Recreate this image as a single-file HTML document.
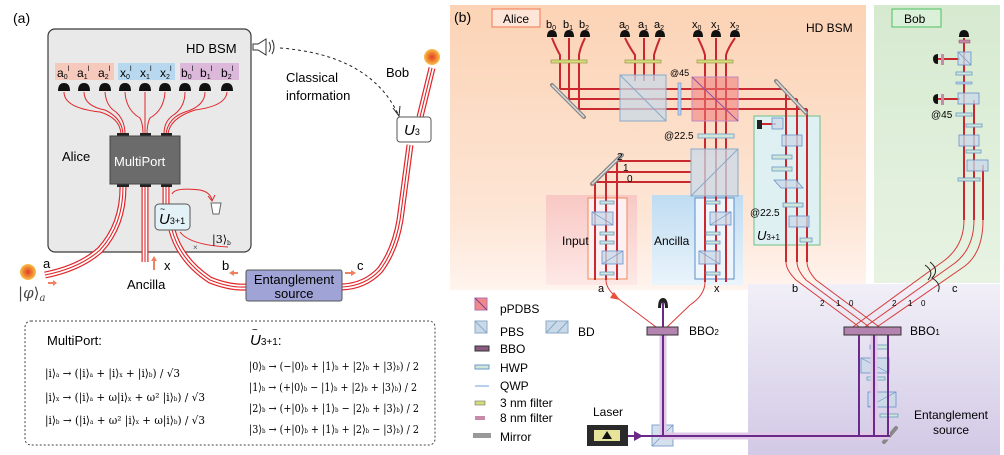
<!DOCTYPE html>
<html><head><meta charset="utf-8">
<style>
html,body{margin:0;padding:0;background:#fff;}
svg{display:block;font-family:"Liberation Sans",sans-serif;}
.f{font-family:"DejaVu Serif","Liberation Serif",serif;}
</style></head>
<body>
<svg width="1004" height="455" viewBox="0 0 1004 455" xmlns="http://www.w3.org/2000/svg">
<defs>
<linearGradient id="peach" x1="0" y1="0" x2="0" y2="1">
<stop offset="0" stop-color="#fcd3b5"/><stop offset="0.75" stop-color="#fde6d6"/><stop offset="1" stop-color="#fff4ee"/></linearGradient>
<linearGradient id="green" x1="0" y1="0" x2="0" y2="1">
<stop offset="0" stop-color="#d6ead0"/><stop offset="1" stop-color="#e8f3e3"/></linearGradient>
<linearGradient id="purp" x1="0" y1="0" x2="0" y2="1">
<stop offset="0" stop-color="#f1eff7"/><stop offset="1" stop-color="#d2c9e6"/></linearGradient>
<linearGradient id="pink" x1="0" y1="0" x2="0" y2="1">
<stop offset="0" stop-color="#f8c8c4"/><stop offset="1" stop-color="#fde8e6"/></linearGradient>
<linearGradient id="blue" x1="0" y1="0" x2="0" y2="1">
<stop offset="0" stop-color="#bfdcf2"/><stop offset="1" stop-color="#eaf4fb"/></linearGradient>
<radialGradient id="orb" cx="0.5" cy="0.5" r="0.5">
<stop offset="0" stop-color="#e53a2a"/><stop offset="0.6" stop-color="#f08a30"/><stop offset="1" stop-color="#f7c050"/></radialGradient>
</defs>

<!-- ========== PANEL A ========== -->
<text x="13" y="23" font-size="14">(a)</text>
<rect x="48" y="29" width="203" height="223" rx="7" fill="#e9e9e9" stroke="#3a3a3a" stroke-width="1.2"/>
<text x="186" y="53" font-size="13">HD BSM</text>
<g stroke="#333" fill="none" stroke-width="1">
<path d="M253 44 L253 50 L258 50 L266 55 L266 39 L258 44 Z" fill="#fff"/>
<path d="M269 42 Q272 47 269 52"/><path d="M272 40 Q276 47 272 54"/>
</g>
<path d="M280 48 Q370 55 398 114" fill="none" stroke="#222" stroke-dasharray="3,3"/>
<path d="M393 108 L399 116 L400 106" fill="none" stroke="#222"/>
<rect x="55" y="63" width="59" height="17" fill="#f6c9bd"/>
<rect x="118" y="63" width="57" height="17" fill="#b7d8ee"/>
<rect x="180" y="63" width="59" height="17" fill="#dcb8da"/>
<g font-size="12">
<text x="57" y="77">a<tspan font-size="7" dy="2">0</tspan><tspan font-size="7" dy="-8">ǀ</tspan></text>
<text x="77" y="77">a<tspan font-size="7" dy="2">1</tspan><tspan font-size="7" dy="-8">ǀ</tspan></text>
<text x="98" y="77">a<tspan font-size="7" dy="2">2</tspan><tspan font-size="7" dy="-8">ǀ</tspan></text>
<text x="120" y="77">x<tspan font-size="7" dy="2">0</tspan><tspan font-size="7" dy="-8">ǀ</tspan></text>
<text x="140" y="77">x<tspan font-size="7" dy="2">1</tspan><tspan font-size="7" dy="-8">ǀ</tspan></text>
<text x="160" y="77">x<tspan font-size="7" dy="2">2</tspan><tspan font-size="7" dy="-8">ǀ</tspan></text>
<text x="181" y="77">b<tspan font-size="7" dy="2">0</tspan><tspan font-size="7" dy="-8">ǀ</tspan></text>
<text x="200" y="77">b<tspan font-size="7" dy="2">1</tspan><tspan font-size="7" dy="-8">ǀ</tspan></text>
<text x="221" y="77">b<tspan font-size="7" dy="2">2</tspan><tspan font-size="7" dy="-8">ǀ</tspan></text>
</g>
<g fill="#111">
<path d="M58 91 Q58 83 64 83 Q70 83 70 91 Z"/><path d="M78 91 Q78 83 84 83 Q90 83 90 91 Z"/>
<path d="M99 91 Q99 83 105 83 Q111 83 111 91 Z"/><path d="M119 91 Q119 83 125 83 Q131 83 131 91 Z"/>
<path d="M139 91 Q139 83 145 83 Q151 83 151 91 Z"/><path d="M159 91 Q159 83 165 83 Q171 83 171 91 Z"/>
<path d="M179 91 Q179 83 185 83 Q191 83 191 91 Z"/><path d="M199 91 Q199 83 205 83 Q211 83 211 91 Z"/>
<path d="M221 91 Q221 83 227 83 Q233 83 233 91 Z"/>
</g>
<g fill="none" stroke="#e0262a" stroke-width="1">
<path d="M64 92 Q64 108 100 112 Q120 118 121 134"/>
<path d="M84 92 Q84 106 105 110 Q122 118 123 134"/>
<path d="M105 92 Q106 106 116 112 Q125 120 125 134"/>
<path d="M125 92 Q126 110 140 118 Q143 124 143 134"/>
<path d="M145 92 L145 134"/>
<path d="M165 92 Q164 110 150 118 Q147 124 147 134"/>
<path d="M185 92 Q185 108 172 116 Q164 122 164 134"/>
<path d="M205 92 Q205 106 185 112 Q168 118 166 134"/>
<path d="M227 92 Q226 106 195 110 Q170 118 168 134"/>
</g>
<rect x="117" y="133" width="12" height="4" fill="#222"/>
<rect x="140" y="133" width="11" height="4" fill="#222"/>
<rect x="161" y="133" width="11" height="4" fill="#222"/>
<rect x="117" y="183" width="12" height="4" fill="#222"/>
<rect x="140" y="183" width="11" height="4" fill="#222"/>
<rect x="161" y="183" width="11" height="4" fill="#222"/>
<rect x="110" y="136" width="70" height="48" fill="#6b6b6b" stroke="#444"/>
<text x="114" y="166" font-size="13" fill="#fff">MultiPort</text>
<text x="62" y="161" font-size="13">Alice</text>
<g fill="none">
<path id="pa" d="M45 275 Q80 268 100 250 Q123 225 123 187"/>
<path id="px" d="M145 187 L145 262"/>
<path id="pb" d="M166 187 L166 204"/>
<path id="pu" d="M172 230 Q180 260 210 280 Q230 288 246 287"/>
<path id="pc" d="M342 287 Q365 286 380 270 Q395 250 400 220 L410 145 M420 117 L432 68"/>
</g>
<g fill="none" stroke="#e0262a" stroke-width="7"><use href="#pa"/><use href="#px"/><use href="#pb"/><use href="#pu"/><use href="#pc"/></g>
<g fill="none" stroke="#fff" stroke-width="4.6"><use href="#pa"/><use href="#px"/><use href="#pb"/><use href="#pu"/><use href="#pc"/></g>
<g fill="none" stroke="#e0262a" stroke-width="1.1"><use href="#pa"/><use href="#px"/><use href="#pb"/><use href="#pu"/><use href="#pc"/></g>
<path d="M172 194 Q175 187 200 190 Q210 192 212 200" fill="none" stroke="#e0262a"/>
<path d="M208 196 L212 201 L215 195" fill="none" stroke="#e0262a"/>
<path d="M211 203 L221 203 L219 214 L213 214 Z" fill="#fff" stroke="#666"/>
<path d="M180 232 Q190 245 228 247" fill="none" stroke="#e0262a"/>
<text x="193" y="250" font-size="8" fill="#555">×</text>
<text x="212" y="243" font-size="11" class="f">|3⟩<tspan font-size="6" dy="2">b</tspan></text>
<rect x="155" y="204" width="35" height="26" rx="4" fill="#e3f2f7" stroke="#555"/>
<text x="159" y="224" font-size="15" font-style="italic">U<tspan font-size="9" font-style="normal">3+1</tspan></text>
<text x="160" y="212" font-size="9">~</text>
<circle cx="28" cy="272" r="8" fill="url(#orb)"/>
<text x="43" y="268" font-size="13">a</text>
<path d="M48 283 L54 283" stroke="#f08060" stroke-width="2"/><path d="M53 280 L57 283 L53 286 Z" fill="#f08060"/>
<text x="18" y="298" font-size="15" fill="#444" class="f">|<tspan font-style="italic">φ</tspan>⟩<tspan font-size="10" font-style="italic" dy="3">a</tspan></text>
<path d="M154 270 L154 260" stroke="#f08060" stroke-width="2"/><path d="M151 261 L154 256 L157 261 Z" fill="#f08060"/>
<text x="164" y="270" font-size="13">x</text>
<text x="127" y="289" font-size="13">Ancilla</text>
<text x="222" y="270" font-size="13">b</text>
<path d="M238 273 L232 273" stroke="#f08060" stroke-width="2"/><path d="M234 270 L229 273 L234 276 Z" fill="#f08060"/>
<path d="M345 273 L352 273" stroke="#f08060" stroke-width="2"/><path d="M351 270 L356 273 L351 276 Z" fill="#f08060"/>
<text x="357" y="270" font-size="13">c</text>
<rect x="246" y="270" width="96" height="31" rx="2" fill="#a0a3d6" stroke="#555"/>
<text x="294" y="284" font-size="13" text-anchor="middle">Entanglement</text>
<text x="294" y="298" font-size="13" text-anchor="middle">source</text>
<text x="386" y="77" font-size="13">Bob</text>
<circle cx="432" cy="57" r="8" fill="url(#orb)"/>
<rect x="397" y="117" width="34" height="25" rx="3" fill="#fff" stroke="#555"/>
<text x="404" y="135" font-size="15" font-style="italic">U<tspan font-size="9" font-style="normal">3</tspan></text>
<text x="286" y="82" font-size="13">Classical</text>
<text x="286" y="100" font-size="13">information</text>

<rect x="25" y="321" width="410" height="124" rx="6" fill="none" stroke="#444" stroke-dasharray="2,2"/>
<text x="47" y="345" font-size="13">MultiPort:</text>
<g font-size="11" class="f" lengthAdjust="spacingAndGlyphs">
<text x="45" y="377" textLength="135" lengthAdjust="spacingAndGlyphs">|i⟩<tspan font-size="6">a</tspan> → (|i⟩<tspan font-size="6">a</tspan> + |i⟩<tspan font-size="6">x</tspan> + |i⟩<tspan font-size="6">b</tspan>) / √3</text>
<text x="45" y="401" textLength="160" lengthAdjust="spacingAndGlyphs">|i⟩<tspan font-size="6">x</tspan> → (|i⟩<tspan font-size="6">a</tspan> + ω|i⟩<tspan font-size="6">x</tspan> + ω² |i⟩<tspan font-size="6">b</tspan>) / √3</text>
<text x="45" y="424" textLength="160" lengthAdjust="spacingAndGlyphs">|i⟩<tspan font-size="6">b</tspan> → (|i⟩<tspan font-size="6">a</tspan> + ω² |i⟩<tspan font-size="6">x</tspan> + ω|i⟩<tspan font-size="6">b</tspan>) / √3</text>
</g>
<g font-size="11" class="f">
<text x="249" y="370" textLength="170" lengthAdjust="spacingAndGlyphs">|0⟩<tspan font-size="6">b</tspan> → (−|0⟩<tspan font-size="6">b</tspan> + |1⟩<tspan font-size="6">b</tspan> + |2⟩<tspan font-size="6">b</tspan> + |3⟩<tspan font-size="6">b</tspan>) / 2</text>
<text x="249" y="391" textLength="168" lengthAdjust="spacingAndGlyphs">|1⟩<tspan font-size="6">b</tspan> → (+|0⟩<tspan font-size="6">b</tspan> − |1⟩<tspan font-size="6">b</tspan> + |2⟩<tspan font-size="6">b</tspan> + |3⟩<tspan font-size="6">b</tspan>) / 2</text>
<text x="249" y="412" textLength="170" lengthAdjust="spacingAndGlyphs">|2⟩<tspan font-size="6">b</tspan> → (+|0⟩<tspan font-size="6">b</tspan> + |1⟩<tspan font-size="6">b</tspan> − |2⟩<tspan font-size="6">b</tspan> + |3⟩<tspan font-size="6">b</tspan>) / 2</text>
<text x="249" y="433" textLength="170" lengthAdjust="spacingAndGlyphs">|3⟩<tspan font-size="6">b</tspan> → (+|0⟩<tspan font-size="6">b</tspan> + |1⟩<tspan font-size="6">b</tspan> + |2⟩<tspan font-size="6">b</tspan> − |3⟩<tspan font-size="6">b</tspan>) / 2</text>
</g>
<text x="250" y="345" font-size="15" font-style="italic">U<tspan font-size="10" font-style="normal">3+1</tspan><tspan font-style="normal" font-size="13">:</tspan></text>
<text x="252" y="333" font-size="10">~</text>

<!-- ========== PANEL B ========== -->
<rect x="450" y="5" width="416" height="285" fill="url(#peach)"/>
<rect x="874" y="5" width="126" height="278" fill="url(#green)"/>
<rect x="748" y="284" width="252" height="171" fill="url(#purp)"/>
<rect x="546" y="195" width="91" height="90" fill="url(#pink)"/>
<rect x="652" y="195" width="91" height="90" fill="url(#blue)"/>
<rect x="588" y="198" width="39" height="81" fill="#fdf0f3" stroke="#f08a5a"/>
<rect x="695" y="198" width="39" height="81" fill="#eef5fb" stroke="#5a8ec8"/>
<rect x="754" y="116" width="66" height="129" fill="#dff0f3" stroke="#6cc08a"/>

<text x="454" y="22" font-size="14">(b)</text>
<rect x="492" y="9" width="48" height="18" fill="#fde5d8" stroke="#f07850"/>
<text x="503" y="23" font-size="12">Alice</text>
<rect x="892" y="9" width="49" height="18" fill="#dbf0d8" stroke="#4cbf60"/>
<text x="904" y="23" font-size="12">Bob</text>
<text x="806" y="32" font-size="12">HD BSM</text>

<g font-size="11">
<text x="546" y="28">b<tspan font-size="7" dy="2">0</tspan></text><text x="563" y="28">b<tspan font-size="7" dy="2">1</tspan></text><text x="579" y="28">b<tspan font-size="7" dy="2">2</tspan></text>
<text x="619" y="28">a<tspan font-size="7" dy="2">0</tspan></text><text x="638" y="28">a<tspan font-size="7" dy="2">1</tspan></text><text x="654" y="28">a<tspan font-size="7" dy="2">2</tspan></text>
<text x="692" y="28">x<tspan font-size="7" dy="2">0</tspan></text><text x="711" y="28">x<tspan font-size="7" dy="2">1</tspan></text><text x="730" y="28">x<tspan font-size="7" dy="2">2</tspan></text>
</g>
<g fill="#111">
<path d="M547 37 Q547 30 552 30 Q557 30 557 37 Z"/><path d="M564 37 Q564 30 569 30 Q574 30 574 37 Z"/><path d="M580 37 Q580 30 585 30 Q590 30 590 37 Z"/>
<path d="M620 37 Q620 30 625 30 Q630 30 630 37 Z"/><path d="M639 37 Q639 30 644 30 Q649 30 649 37 Z"/><path d="M655 37 Q655 30 660 30 Q665 30 665 37 Z"/>
<path d="M693 37 Q693 30 698 30 Q703 30 703 37 Z"/><path d="M711 37 Q711 30 716 30 Q721 30 721 37 Z"/><path d="M730 37 Q730 30 735 30 Q740 30 740 37 Z"/>
<path d="M959 37 Q959 30 964 30 Q969 30 969 37 Z"/>
<path d="M933 59 Q933 54 938 54 L938 64 Q933 64 933 59 Z"/>
<path d="M933 99 Q933 94 938 94 L938 104 Q933 104 933 99 Z"/>
</g>
<g fill="none" stroke="#c8282e" stroke-width="2">
<path d="M552 38 Q556 48 560 55 L560 89"/><path d="M569 38 L569 99"/><path d="M585 38 Q580 48 579 55 L579 109"/>
<path d="M625 38 Q630 48 635 55 L635 81"/><path d="M644 38 L644 81"/><path d="M660 38 Q656 48 654 55 L654 81"/>
<path d="M698 38 Q703 48 705 55 L705 282"/><path d="M716 38 L716 282"/><path d="M735 38 Q728 48 726 55 L726 282"/>
<path d="M560 89 L786 89"/><path d="M569 99 L797 99"/><path d="M579 109 L807 109"/>
<path d="M786 89 L786 262"/><path d="M797 99 L797 262"/><path d="M807 109 L807 262"/>
<path d="M595 182 L691 182"/><path d="M606 172 L691 172"/><path d="M617 161 L691 161"/>
<path d="M595 182 L595 280"/><path d="M606 172 L606 280"/><path d="M617 161 L617 280"/>
<path d="M964 38 L964 220"/><path d="M974 100 L974 220"/><path d="M983 165 L983 220"/>
<path d="M938 59 L960 59"/><path d="M938 99 L960 99"/><path d="M762 124 L776 124"/>
</g>
<g fill="none" stroke="#d83a3a" stroke-width="1">
<path d="M786 262 Q786 270 796 280 L862 329"/><path d="M797 262 Q797 270 806 280 L872 329"/><path d="M807 262 Q807 270 816 280 L882 329"/>
<path d="M964 220 Q964 245 945 260 L850 329"/><path d="M974 220 Q974 248 955 263 L862 329"/><path d="M983 220 Q983 252 965 266 L874 329"/>
<path d="M606 280 Q606 290 620 300 L660 330 M705 282 Q705 295 690 305 L664 330"/>
</g>
<path d="M614 292 L620 300 L610 298 Z" fill="#e8503a"/>
<path d="M930 262 Q940 270 932 278 Q942 284 938 292" fill="none" stroke="#222"/>
<path d="M925 265 Q935 272 928 280" fill="none" stroke="#222"/>
<g fill="#d5dc7a" stroke="#8a8a40" stroke-width="0.6">
<rect x="551" y="60" width="36" height="3"/><rect x="625" y="60" width="36" height="3"/><rect x="697" y="60" width="36" height="3"/>
</g>
<g stroke="#888" stroke-width="4" stroke-linecap="round"><path d="M552 85 L584 117"/><path d="M776 81 L806 113"/><path d="M592 184 L622 155"/><path d="M884 442 L896 428"/></g>
<g stroke="#ddd" stroke-width="1.5"><path d="M552 85 L584 117"/><path d="M776 81 L806 113"/><path d="M592 184 L622 155"/></g>
<g fill="#c9d9e8" fill-opacity="0.75" stroke="#8aaac8">
<rect x="620" y="75" width="46" height="46"/><path d="M620 75 L666 121"/>
<rect x="691" y="149" width="47" height="47"/><path d="M691 196 L738 149"/>
</g>
<rect x="692" y="77" width="46" height="44" fill="#f07a7a" fill-opacity="0.55" stroke="#c08ac0"/>
<path d="M692 77 L738 121" stroke="#9050a0"/>
<rect x="678" y="83" width="3" height="32" fill="#b8d0f0" stroke="#6a90c8" stroke-width="0.6"/>
<text x="670" y="76" font-size="9">@45</text>
<text x="664" y="139" font-size="10">@22.5</text>
<g fill="#cfe6d8" stroke="#6a9ac8" stroke-width="0.8">
<rect x="698" y="134" width="36" height="4"/>
<rect x="600" y="201" width="14" height="3"/><rect x="600" y="232" width="14" height="3"/><rect x="600" y="241" width="14" height="3"/><rect x="600" y="272" width="14" height="3"/>
<rect x="706" y="201" width="14" height="3"/><rect x="706" y="232" width="14" height="3"/><rect x="706" y="241" width="14" height="3"/><rect x="706" y="272" width="14" height="3"/>
<rect x="772" y="155" width="20" height="4"/><rect x="772" y="167" width="20" height="4"/><rect x="783" y="203" width="20" height="4"/><rect x="800" y="238" width="12" height="4"/>
<rect x="956" y="72" width="16" height="3"/><rect x="956" y="113" width="16" height="3"/><rect x="966" y="124" width="16" height="3"/><rect x="966" y="150" width="15" height="3"/><rect x="958" y="178" width="22" height="3"/>
<rect x="870" y="345" width="18" height="4"/><rect x="867" y="377" width="18" height="3"/><rect x="880" y="414" width="18" height="3"/>
</g>
<rect x="956" y="82" width="16" height="2" fill="#b8d0f0" stroke="#6a90c8" stroke-width="0.6"/>
<g fill="#c9d9e8" fill-opacity="0.8" stroke="#6a90c8" stroke-width="0.8">
<rect x="592" y="212" width="21" height="13"/><rect x="602" y="251" width="21" height="13"/>
<rect x="710" y="212" width="21" height="13"/><rect x="699" y="251" width="21" height="13"/>
<rect x="782" y="135" width="20" height="11"/><rect x="789" y="216" width="20" height="11"/><rect x="772" y="118" width="11" height="11"/>
<rect x="958" y="52" width="13" height="13"/><rect x="958" y="93" width="21" height="11"/><rect x="959" y="135" width="20" height="11"/><rect x="967" y="160" width="21" height="11"/>
<path d="M774 180 L796 180 L803 188 L781 188 Z"/>
<rect x="861" y="358" width="28" height="15"/><rect x="868" y="392" width="28" height="15"/>
<rect x="652" y="425" width="21" height="21"/>
</g>
<g stroke="#6a90c8" stroke-width="0.6"><path d="M592 212 L613 225 M710 225 L731 212 M602 264 L623 251 M699 251 L720 264 M958 52 L971 65 M861 358 L889 373 M868 407 L896 392 M652 446 L673 425"/></g>
<rect x="757" y="120" width="5" height="9" fill="#222"/>
<text x="750" y="216" font-size="10">@22.5</text>
<text x="757" y="240" font-size="13" font-style="italic">U<tspan font-size="8" font-style="normal">3+1</tspan></text>
<text x="931" y="118" font-size="10">@45</text>
<rect x="959" y="40" width="11" height="3" fill="#c78aa8" stroke="#8a4a6a" stroke-width="0.5"/>
<rect x="941" y="54" width="3" height="11" fill="#c78aa8"/><rect x="941" y="94" width="3" height="11" fill="#c78aa8"/>
<text x="562" y="245" font-size="12">Input</text>
<text x="654" y="245" font-size="12">Ancilla</text>
<text x="617" y="160" font-size="10">2</text><text x="623" y="171" font-size="10">1</text><text x="627" y="182" font-size="10">0</text>
<text x="598" y="292" font-size="11">a</text><text x="714" y="292" font-size="11">x</text>
<text x="792" y="292" font-size="11">b</text><text x="952" y="292" font-size="11">c</text>
<g font-size="8"><text x="820" y="306">2</text><text x="836" y="306">1</text><text x="849" y="306">0</text><text x="892" y="306">2</text><text x="908" y="306">1</text><text x="921" y="306">0</text></g>
<g stroke="#e2c8e8" stroke-width="7" fill="none"><path d="M663 331 L663 436 L890 436"/><path d="M874 331 L874 436"/></g>
<g stroke="#6a2a8a" stroke-width="2" fill="none"><path d="M663 300 L663 436 M628 436 L890 436"/><path d="M859 331 L859 436 M874 331 L874 436 M888 331 L888 436"/></g>
<path d="M634 431 L643 436 L634 441 Z" fill="#6a2a8a"/>
<path d="M658 308 Q658 298 663 298 Q668 298 668 308 L665 308 Q665 302 663 302 Q661 302 661 308 Z" fill="#222"/>
<rect x="647" y="327" width="31" height="8" fill="#b483b0" stroke="#333"/>
<text x="689" y="335" font-size="12">BBO<tspan font-size="8">2</tspan></text>
<rect x="844" y="327" width="57" height="8" fill="#b483b0" stroke="#333"/>
<text x="910" y="335" font-size="12">BBO<tspan font-size="8">1</tspan></text>
<text x="593" y="416" font-size="12">Laser</text>
<rect x="587" y="425" width="41" height="21" fill="#2a2a2a"/>
<rect x="594" y="430" width="26" height="11" fill="#e8e39a"/>
<path d="M602 439 L607 431 L612 439 Z" fill="#111"/>
<text x="951" y="419" font-size="12" text-anchor="middle">Entanglement</text>
<text x="951" y="434" font-size="12" text-anchor="middle">source</text>
<rect x="475" y="298" width="12" height="12" fill="#f08a8a" stroke="#b070b0"/><path d="M475 298 L487 310" stroke="#804090"/>
<text x="500" y="313" font-size="12">pPDBS</text>
<rect x="475" y="321" width="12" height="12" fill="#c9d9e8" stroke="#8aaac8"/><path d="M475 321 L487 333" stroke="#8aaac8"/>
<text x="500" y="336" font-size="12">PBS</text>
<rect x="546" y="321" width="22" height="12" fill="#c9d9e8" stroke="#8aaac8"/><path d="M546 333 L557 321 M557 333 L568 321" stroke="#8aaac8"/>
<text x="578" y="336" font-size="12">BD</text>
<rect x="475" y="346" width="14" height="5" fill="#8a5a80" stroke="#333"/><text x="500" y="353" font-size="12">BBO</text>
<rect x="475" y="365" width="14" height="4" fill="#cfe6d8" stroke="#6a9ac8"/><text x="500" y="372" font-size="12">HWP</text>
<rect x="475" y="385" width="14" height="2" fill="#b8d0f0"/><text x="500" y="390" font-size="12">QWP</text>
<rect x="475" y="401" width="10" height="4" fill="#d5dc7a" stroke="#555" stroke-width="0.5"/><text x="500" y="407" font-size="12">3 nm filter</text>
<rect x="475" y="416" width="10" height="4" fill="#c78aa8"/><text x="500" y="422" font-size="12">8 nm filter</text>
<rect x="473" y="433" width="18" height="5" fill="#999"/><text x="500" y="441" font-size="12">Mirror</text>
</svg>
</body></html>
